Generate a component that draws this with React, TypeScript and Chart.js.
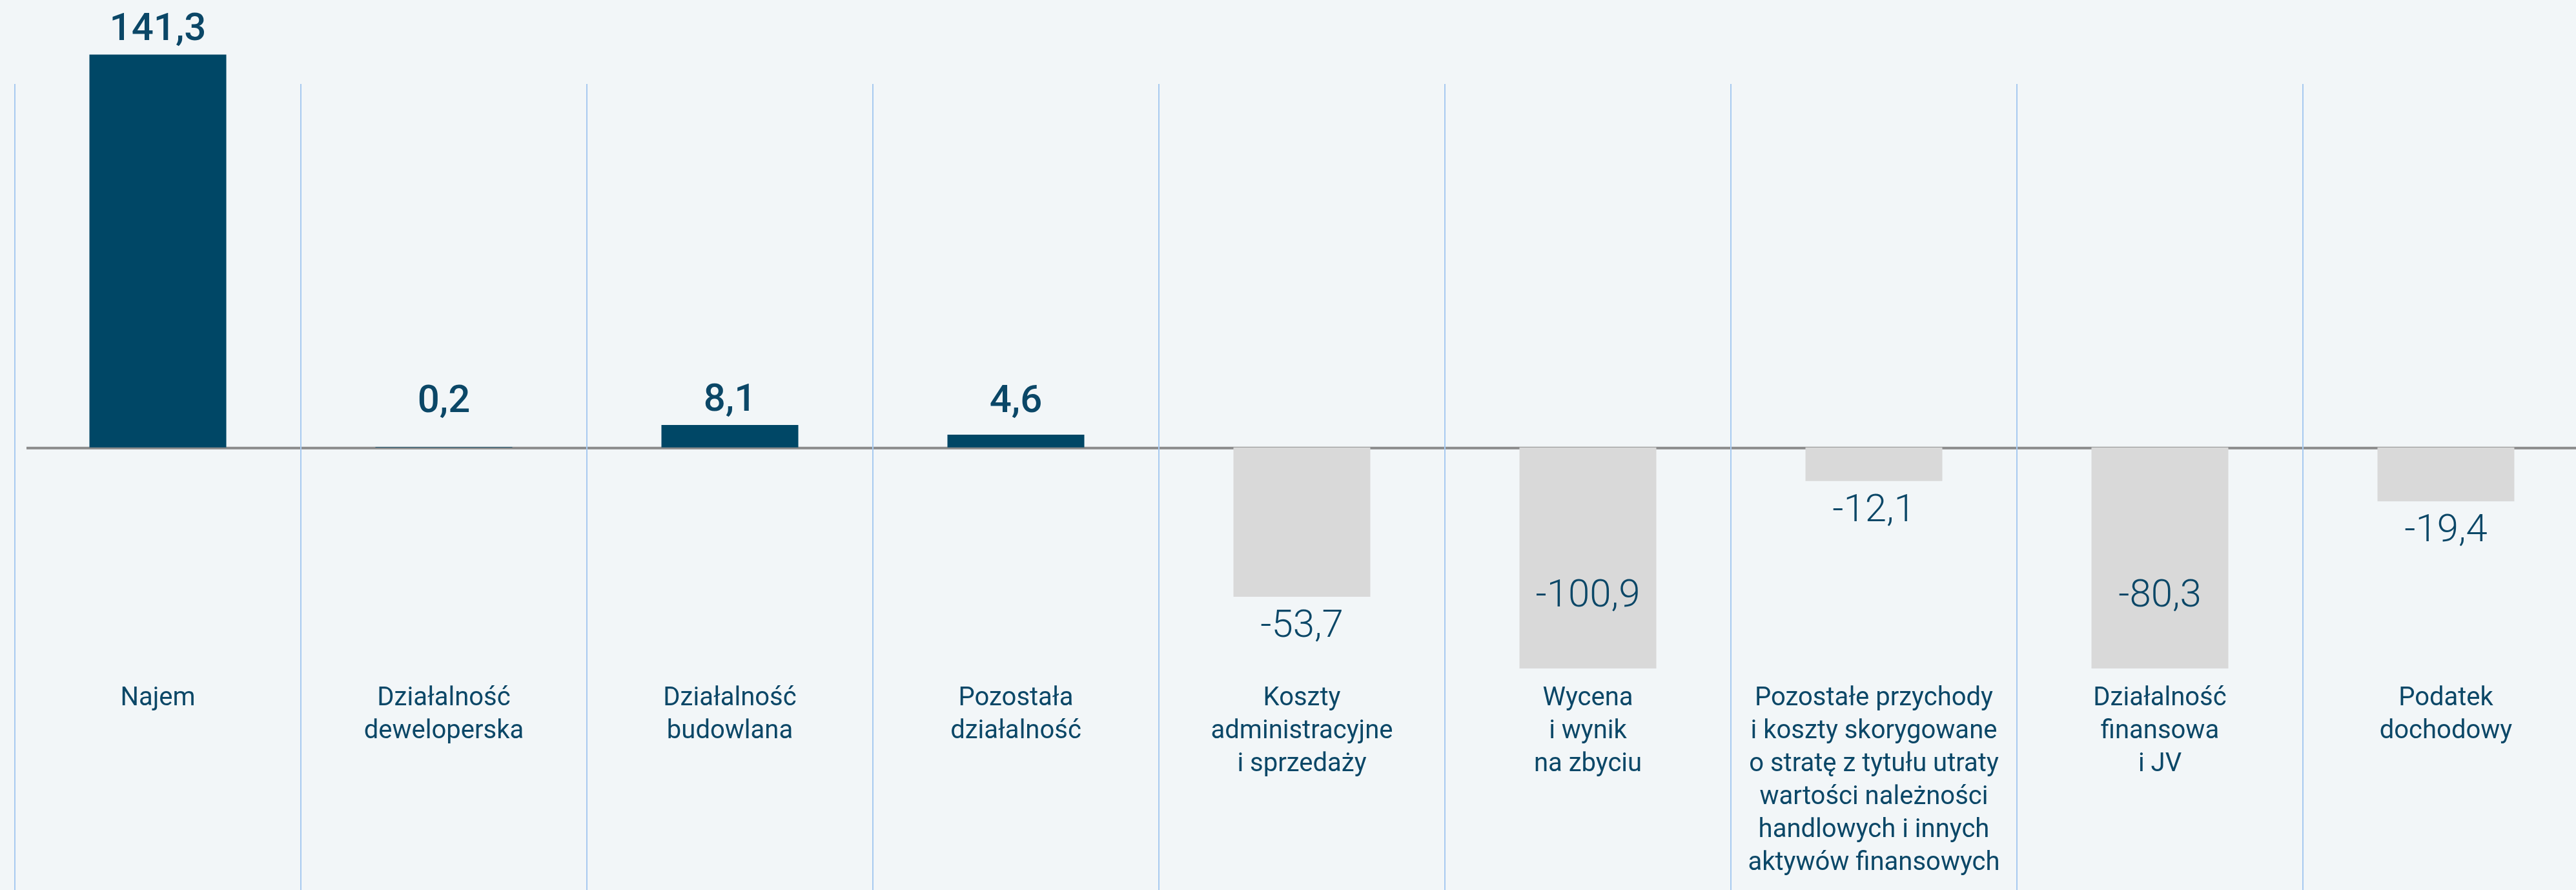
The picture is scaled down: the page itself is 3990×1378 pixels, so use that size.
import React, { useEffect, useRef } from "react";
import { Chart, registerables } from "chart.js";

Chart.register(...registerables);

// ---- Data ----
const categories: string[][] = [
  ["Najem"],
  ["Działalność", "deweloperska"],
  ["Działalność", "budowlana"],
  ["Pozostała", "działalność"],
  ["Koszty", "administracyjne", "i sprzedaży"],
  ["Wycena", "i wynik", "na zbyciu"],
  [
    "Pozostałe przychody",
    "i koszty skorygowane",
    "o stratę z tytułu utraty",
    "wartości należności",
    "handlowych i innych",
    "aktywów finansowych",
  ],
  ["Działalność", "finansowa", "i JV"],
  ["Podatek", "dochodowy"],
];

const values: number[] = [141.3, 0.2, 8.1, 4.6, -53.7, -100.9, -12.1, -80.3, -19.4];

const yMin = -79.5;
const yMax = 150;

// ---- Styles ----
const POS_COLOR = "#004766";
const NEG_COLOR = "#d9d9d9";
const TEXT_COLOR = "#0b4767";
const BG = "#f2f6f8";
const GRID_COLOR = "#a8caf0";
const ZERO_COLOR = "#8b8b8b";
const FONT = "Roboto, 'Noto Sans', sans-serif";

const fmt = (v: number) => v.toFixed(1).replace(".", ",");

export default function App() {
  const ref = useRef<HTMLCanvasElement>(null);

  useEffect(() => {
    const canvas = ref.current;
    if (!canvas) return;

    const bgPlugin = {
      id: "bgFill",
      beforeDraw(chart: any) {
        const { ctx, width, height } = chart;
        ctx.save();
        ctx.fillStyle = BG;
        ctx.fillRect(0, 0, width, height);
        ctx.restore();
      },
    };

    const gridPlugin = {
      id: "customGrid",
      beforeDatasetsDraw(chart: any) {
        const { ctx, chartArea, height, width } = chart;
        const xs = chart.scales.x;
        const ys = chart.scales.y;
        const zero = ys.getPixelForValue(0);
        // zero line
        ctx.save();
        ctx.fillStyle = ZERO_COLOR;
        ctx.fillRect(chartArea.left + 18, zero - 1, width, 4);
        // vertical category separators
        const step = xs.getPixelForValue(1) - xs.getPixelForValue(0);
        ctx.strokeStyle = GRID_COLOR;
        ctx.lineWidth = 2;
        for (let i = 0; i <= categories.length; i++) {
          const x = Math.round(xs.getPixelForValue(i) - step / 2);
          ctx.beginPath();
          ctx.moveTo(x, 130);
          ctx.lineTo(x, height);
          ctx.stroke();
        }
        ctx.restore();
      },
    };

    const labelPlugin = {
      id: "valueLabels",
      afterDatasetsDraw(chart: any) {
        const { ctx, chartArea } = chart;
        const ys = chart.scales.y;
        const zero = ys.getPixelForValue(0);
        const meta = chart.getDatasetMeta(0);
        ctx.save();
        ctx.fillStyle = TEXT_COLOR;
        ctx.textAlign = "center";
        ctx.textBaseline = "alphabetic";
        meta.data.forEach((el: any, i: number) => {
          const v = values[i];
          const txt = fmt(v);
          if (v >= 0) {
            ctx.font = `500 60px ${FONT}`;
            const base = Math.min(el.y - 22, zero - 55);
            ctx.fillText(txt, el.x, base);
          } else {
            ctx.font = `300 60px ${FONT}`;
            let base = el.y + 62;
            if (el.y > chartArea.bottom) base = chartArea.bottom - 96;
            ctx.fillText(txt, el.x, base);
          }
        });
        ctx.restore();
      },
    };

    const chart = new Chart(canvas, {
      type: "bar",
      data: {
        labels: categories,
        datasets: [
          {
            data: values,
            backgroundColor: values.map((v) => (v >= 0 ? POS_COLOR : NEG_COLOR)),
            borderWidth: 0,
            categoryPercentage: 1,
            barPercentage: 0.4786,
          },
        ],
      },
      options: {
        animation: false,
        responsive: false,
        maintainAspectRatio: false,
        layout: { padding: { left: 23, right: 20, top: 47, bottom: -5 } },
        plugins: {
          legend: { display: false },
          tooltip: { enabled: false },
          title: { display: false },
        },
        scales: {
          x: {
            grid: { display: false, drawTicks: false },
            border: { display: false },
            ticks: {
              color: TEXT_COLOR,
              font: { family: FONT, size: 40, lineHeight: "51px" as any },
              padding: 21,
              autoSkip: false,
              maxRotation: 0,
              minRotation: 0,
            },
          },
          y: {
            display: false,
            min: yMin,
            max: yMax,
          },
        },
      },
      plugins: [bgPlugin, gridPlugin, labelPlugin],
    });

    return () => chart.destroy();
  }, []);

  return (
    <div
      style={{
        position: "absolute",
        left: 0,
        top: 0,
        width: 3990,
        height: 1378,
        overflow: "hidden",
        background: BG,
      }}
    >
      <canvas ref={ref} width={4030} height={1378} style={{ display: "block" }} />
    </div>
  );
}
